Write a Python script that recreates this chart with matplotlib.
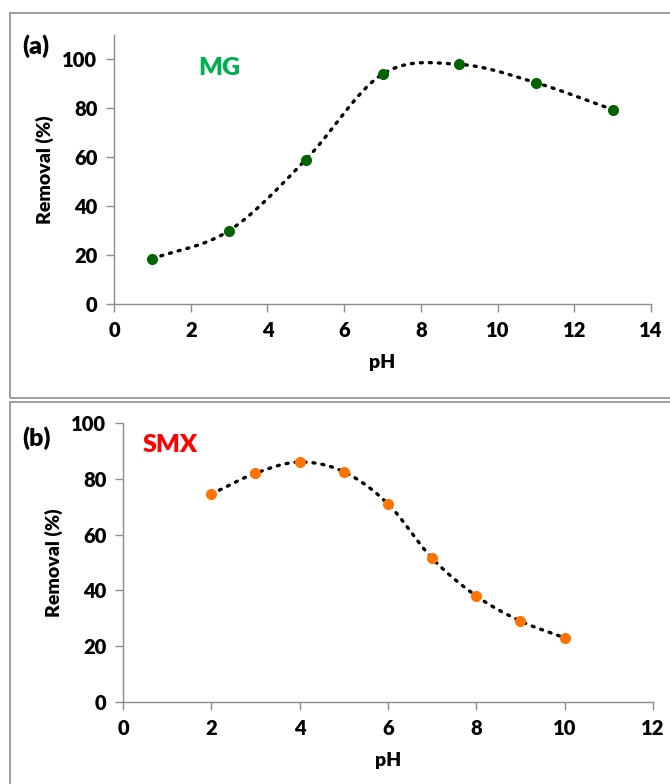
import numpy as np
import matplotlib
matplotlib.use("Agg")
import matplotlib.pyplot as plt
from matplotlib.patches import Rectangle

# ---- data ----
ph_mg = [1, 3, 5, 7, 9, 11, 13]
removal_mg = [18.5, 30, 59, 94, 98, 90.5, 79.5]

ph_smx = [2, 3, 4, 5, 6, 7, 8, 9, 10]
removal_smx = [74.5, 82, 86, 82.5, 71, 51.5, 38, 29, 23]

xticks_a = [0, 2, 4, 6, 8, 10, 12, 14]
yticks_a = [0, 20, 40, 60, 80, 100]
xticks_b = [0, 2, 4, 6, 8, 10, 12]
yticks_b = [0, 20, 40, 60, 80, 100]

plt.rcParams['font.family'] = ['Lato', 'DejaVu Sans']
W = 'heavy'


def smooth(x, y, n=40):
    """Catmull-Rom style smoothing like an Excel smoothed line."""
    x = np.asarray(x, float)
    y = np.asarray(y, float)
    P = np.column_stack([x, y])
    P = np.vstack([2 * P[0] - P[1], P, 2 * P[-1] - P[-2]])
    out = []
    for i in range(1, len(P) - 2):
        p0, p1, p2, p3 = P[i - 1], P[i], P[i + 1], P[i + 2]
        t = np.linspace(0, 1, n)[:, None]
        c1 = p1 + (p2 - p0) / 6
        c2 = p2 - (p3 - p1) / 6
        seg = ((1 - t) ** 3) * p1 + 3 * ((1 - t) ** 2) * t * c1 + 3 * (1 - t) * t ** 2 * c2 + t ** 3 * p2
        out.append(seg if i == 1 else seg[1:])
    out = np.vstack(out)
    return out[:, 0], out[:, 1]


fig = plt.figure(figsize=(6.7, 7.84), dpi=100)

# panel borders
fig.patches.append(Rectangle((10 / 670, 1 - 398 / 784), 1.0, (398 - 13) / 784,
                             transform=fig.transFigure, fill=False,
                             edgecolor='#8c8c8c', linewidth=1.2))
fig.patches.append(Rectangle((10 / 670, -0.01), 1.0, 1 - 402 / 784 + 0.01,
                             transform=fig.transFigure, fill=False,
                             edgecolor='#8c8c8c', linewidth=1.2))

ax1 = fig.add_axes([114 / 670, 1 - 304 / 784, (651 - 114) / 670, (304 - 35) / 784])
ax2 = fig.add_axes([123 / 670, 1 - 702 / 784, (653 - 123) / 670, (702 - 423) / 784])


def style(ax, xt, yt, xlim, ylim):
    for s in ['top', 'right']:
        ax.spines[s].set_visible(False)
    for s in ['left', 'bottom']:
        ax.spines[s].set_color('#8c8c8c')
        ax.spines[s].set_linewidth(1.0)
    ax.set_xlim(*xlim)
    ax.set_ylim(*ylim)
    ax.set_xticks(xt)
    ax.set_yticks(yt)
    ax.tick_params(axis='both', direction='out', color='#8c8c8c', length=6, width=1.0,
                   labelsize=14.5, pad=6)
    for lab in ax.get_xticklabels() + ax.get_yticklabels():
        lab.set_fontweight(W)
    ax.set_xlabel('pH', fontsize=14, fontweight=W, labelpad=10)
    ax.set_ylabel('Removal (%)', fontsize=14, fontweight=W, labelpad=6)
    ax.patch.set_alpha(0)


LS = (0, (0.6, 2.1))

# panel (a)
sx, sy = smooth(ph_mg, removal_mg)
ax1.plot(sx, sy, color='black', linewidth=2.4, linestyle=LS,
         dash_capstyle='round', zorder=2)
ax1.plot(ph_mg, removal_mg, 'o', color='#006400', markersize=8, zorder=3,
         markeredgewidth=0)
style(ax1, xticks_a, yticks_a, (0, 14), (0, 110))
ax1.text(2.2, 96.5, 'MG', color='#00b050', fontsize=18, fontweight=W,
         va='center', ha='left')
fig.text(22 / 670, 1 - 46 / 784, '(a)', fontsize=18, fontweight=W,
         va='center', ha='left')

# panel (b)
sx, sy = smooth(ph_smx, removal_smx)
ax2.plot(sx, sy, color='black', linewidth=2.4, linestyle=LS,
         dash_capstyle='round', zorder=2)
ax2.plot(ph_smx, removal_smx, 'o', color='#ff7400', markersize=8, zorder=3,
         markeredgewidth=0)
style(ax2, xticks_b, yticks_b, (0, 12), (0, 100))
ax2.text(0.45, 92, 'SMX', color='#ff0000', fontsize=18, fontweight=W,
         va='center', ha='left')
fig.text(22 / 670, 1 - 438 / 784, '(b)', fontsize=18, fontweight=W,
         va='center', ha='left')

fig.savefig('out.png', dpi=100)
